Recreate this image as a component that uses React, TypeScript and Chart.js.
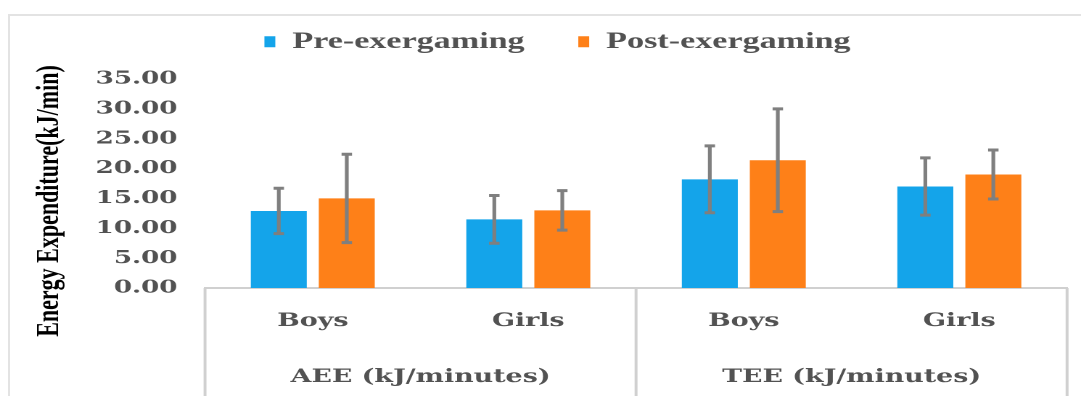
import React, { useEffect, useRef } from 'react';
import { Chart, registerables } from 'chart.js';

Chart.register(...registerables);

// ---- data ----
const subgroups = ['Boys', 'Girls', 'Boys', 'Girls'];
const measures = ['AEE (kJ/minutes)', 'TEE (kJ/minutes)'];
const seriesNames = ['Pre-exergaming', 'Post-exergaming'];
const preMean = [12.9, 11.5, 18.2, 17.0];
const preSD = [3.8, 4.0, 5.6, 4.8];
const postMean = [15.0, 13.0, 21.4, 19.0];
const postSD = [7.4, 3.3, 8.6, 4.1];
const yTitle = 'Energy Expenditure(kJ/min)';
const Y_MIN = 0;
const Y_MAX = 35;
const Y_STEP = 5;

// ---- look ----
const BLUE = '#14A4EA';
const ORANGE = '#FE8018';
const ERR = '#7F7F7F';
const TEXT = '#525252';
const LINE = '#D0D0D0';

// The chart is laid out on a narrower canvas and widened horizontally,
// which gives the broad, heavy lettering of the original figure.
const W = 745;
const H = 396;
const STRETCH = 1081 / W;

const PAD_TOP = -7;
const LEGEND_PAD = 37;
const PLOT_TOP = 79;
const LEGEND_HEIGHT = PLOT_TOP - PAD_TOP;

const tickFont = { family: '"DejaVu Serif", serif', weight: 'bold' as const, size: 18.5 };

// keeps the legend band at a fixed height so the plot starts where it should
const legendBand = {
  id: 'legendBand',
  beforeLayout(chart: any) {
    const lg = chart.legend;
    if (lg && !lg.__banded) {
      const fit = lg.fit.bind(lg);
      lg.fit = () => {
        fit();
        lg.height = LEGEND_HEIGHT;
      };
      lg.__banded = true;
    }
  },
};

// standard-deviation whiskers on every bar
const errorBars = {
  id: 'errorBars',
  afterDatasetsDraw(chart: any) {
    const { ctx } = chart;
    const y = chart.scales.y;
    const spreads = [preSD, postSD];
    ctx.save();
    ctx.strokeStyle = ERR;
    chart.data.datasets.forEach((ds: any, d: number) => {
      const meta = chart.getDatasetMeta(d);
      meta.data.forEach((bar: any, i: number) => {
        const v = ds.data[i];
        const e = spreads[d][i];
        const top = y.getPixelForValue(v + e);
        const bot = y.getPixelForValue(v - e);
        ctx.lineWidth = 2.6;
        ctx.beginPath();
        ctx.moveTo(bar.x, top);
        ctx.lineTo(bar.x, bot);
        ctx.stroke();
        ctx.lineWidth = 3;
        ctx.beginPath();
        ctx.moveTo(bar.x - 3.6, top);
        ctx.lineTo(bar.x + 3.6, top);
        ctx.moveTo(bar.x - 3.6, bot);
        ctx.lineTo(bar.x + 3.6, bot);
        ctx.stroke();
      });
    });
    ctx.restore();
  },
};

// frame under the category axis: outer edges and the divider between the two measures
const groupFrame = {
  id: 'groupFrame',
  afterDraw(chart: any) {
    const { ctx } = chart;
    const x = chart.scales.x;
    const n = x.ticks.length;
    const half = n / 2;
    const mid = (x.getPixelForTick(half - 1) + x.getPixelForTick(half)) / 2;
    ctx.save();
    ctx.strokeStyle = LINE;
    ctx.lineWidth = 2;
    ctx.beginPath();
    [x.left, mid, x.right].forEach((px: number) => {
      ctx.moveTo(px, x.top);
      ctx.lineTo(px, chart.height + 2);
    });
    ctx.stroke();
    ctx.restore();
  },
};

// vertical axis caption
const yCaption = {
  id: 'yCaption',
  afterDraw(chart: any) {
    const { ctx } = chart;
    ctx.save();
    ctx.translate(34.5, 201);
    ctx.rotate(-Math.PI / 2);
    ctx.font = 'bold 22px "Liberation Serif", serif';
    ctx.fillStyle = '#000000';
    ctx.textAlign = 'center';
    ctx.textBaseline = 'middle';
    ctx.fillText(yTitle, 0, 0);
    ctx.restore();
  },
};

export default function App() {
  const canvasRef = useRef<HTMLCanvasElement>(null);

  useEffect(() => {
    const canvas = canvasRef.current;
    if (!canvas) return;
    const chart = new Chart(canvas, {
      type: 'bar',
      data: {
        labels: subgroups,
        datasets: [
          {
            label: seriesNames[0],
            data: preMean,
            backgroundColor: BLUE,
            borderWidth: 0,
            categoryPercentage: 0.631,
            barPercentage: 0.823,
          },
          {
            label: seriesNames[1],
            data: postMean,
            backgroundColor: ORANGE,
            borderWidth: 0,
            categoryPercentage: 0.631,
            barPercentage: 0.823,
          },
        ],
      },
      options: {
        animation: false,
        responsive: false,
        devicePixelRatio: 2,
        layout: { padding: { left: 33, right: 9.6, top: PAD_TOP, bottom: 7.8 } },
        plugins: {
          tooltip: { enabled: false },
          legend: {
            position: 'top',
            align: 'center',
            labels: {
              boxWidth: 7.5,
              boxHeight: 11,
              padding: LEGEND_PAD,
              color: TEXT,
              font: { family: '"Liberation Serif", serif', weight: 'bold', size: 23.5 },
            },
          },
        },
        scales: {
          x: {
            type: 'category',
            position: 'bottom',
            weight: 0,
            offset: true,
            grid: { display: false, drawTicks: false, tickLength: 0 },
            border: { display: true, color: LINE, width: 2 },
            ticks: {
              padding: 21.9,
              color: TEXT,
              font: tickFont,
              maxRotation: 0,
              autoSkip: false,
            },
            afterFit: (s: any) => {
              s.height = 44.2;
            },
          },
          x2: {
            type: 'category',
            position: 'bottom',
            weight: 1,
            offset: true,
            labels: measures,
            grid: { display: false, drawTicks: false, tickLength: 0 },
            border: { display: false },
            ticks: {
              padding: 33.7,
              color: TEXT,
              font: tickFont,
              maxRotation: 0,
              autoSkip: false,
            },
            afterFit: (s: any) => {
              s.height = 56;
            },
          },
          y: {
            min: Y_MIN,
            max: Y_MAX,
            grid: { display: false, drawTicks: false, tickLength: 0 },
            border: { display: false },
            ticks: {
              stepSize: Y_STEP,
              padding: 19,
              autoSkip: false,
              color: TEXT,
              font: { family: '"DejaVu Serif", serif', weight: 'bold', size: 18 },
              callback: (v: any) => Number(v).toFixed(2),
            },
            afterFit: (s: any) => {
              s.width = 108.3;
            },
          },
        },
      } as any,
      plugins: [legendBand, errorBars, groupFrame, yCaption],
    });
    return () => chart.destroy();
  }, []);

  return (
    <div
      style={{
        position: 'fixed',
        left: 0,
        top: 0,
        width: 1081,
        height: 396,
        overflow: 'hidden',
        background: '#ffffff',
      }}
    >
      <div
        style={{
          position: 'absolute',
          left: 8,
          top: 14,
          width: 1100,
          height: 420,
          border: '2px solid #e3e3e3',
          boxSizing: 'border-box',
        }}
      />
      <div
        style={{
          position: 'absolute',
          left: 0,
          top: 0,
          width: W,
          height: H,
          transform: `scaleX(${STRETCH})`,
          transformOrigin: '0 0',
        }}
      >
        <canvas ref={canvasRef} width={W} height={H} />
      </div>
    </div>
  );
}
